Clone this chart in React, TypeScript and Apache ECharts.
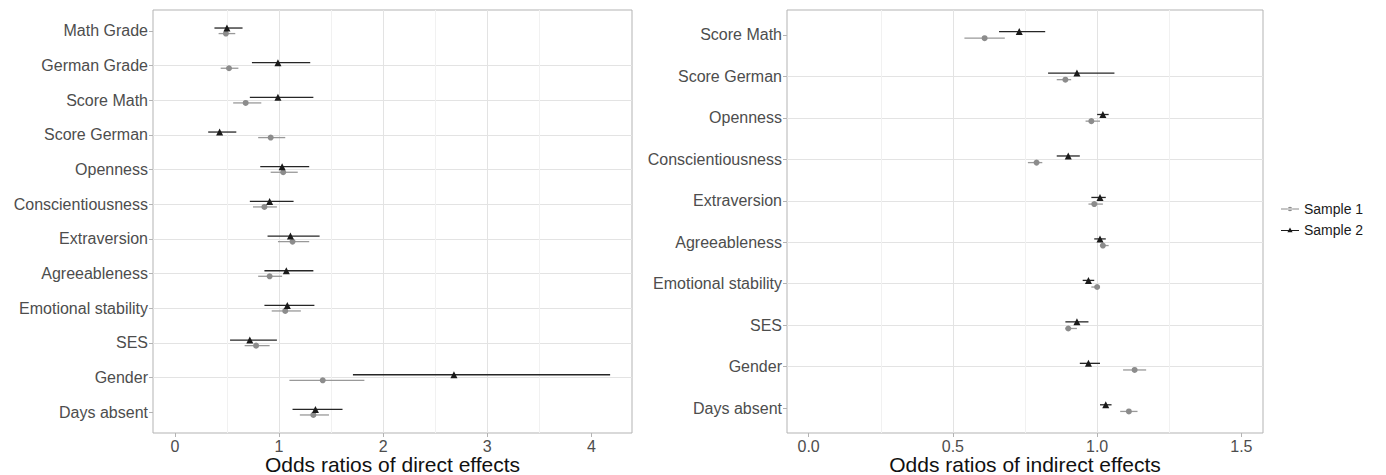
import React, { useEffect, useRef } from "react";
import * as echarts from "echarts";

const directCategories = [
  "Math Grade", "German Grade", "Score Math", "Score German", "Openness",
  "Conscientiousness", "Extraversion", "Agreeableness", "Emotional stability",
  "SES", "Gender", "Days absent",
];
const directS1Est = [0.49, 0.52, 0.68, 0.92, 1.04, 0.86, 1.13, 0.91, 1.06, 0.78, 1.42, 1.33];
const directS1Lo = [0.42, 0.44, 0.56, 0.80, 0.92, 0.75, 0.99, 0.80, 0.93, 0.67, 1.10, 1.20];
const directS1Hi = [0.58, 0.61, 0.83, 1.06, 1.18, 0.98, 1.29, 1.03, 1.21, 0.91, 1.82, 1.48];
const directS2Est = [0.50, 0.99, 0.99, 0.43, 1.03, 0.91, 1.11, 1.07, 1.08, 0.72, 2.68, 1.35];
const directS2Lo = [0.38, 0.74, 0.72, 0.32, 0.82, 0.72, 0.89, 0.86, 0.86, 0.53, 1.71, 1.13];
const directS2Hi = [0.65, 1.30, 1.33, 0.59, 1.29, 1.14, 1.39, 1.33, 1.34, 0.98, 4.18, 1.61];

const indirectCategories = [
  "Score Math", "Score German", "Openness", "Conscientiousness", "Extraversion",
  "Agreeableness", "Emotional stability", "SES", "Gender", "Days absent",
];
const indirectS1Est = [0.61, 0.89, 0.98, 0.79, 0.99, 1.02, 1.00, 0.90, 1.13, 1.11];
const indirectS1Lo = [0.54, 0.86, 0.96, 0.76, 0.97, 1.01, 0.98, 0.89, 1.09, 1.08];
const indirectS1Hi = [0.68, 0.91, 1.01, 0.81, 1.02, 1.04, 1.01, 0.93, 1.17, 1.14];
const indirectS2Est = [0.73, 0.93, 1.02, 0.90, 1.01, 1.01, 0.97, 0.93, 0.97, 1.03];
const indirectS2Lo = [0.66, 0.83, 1.00, 0.86, 0.98, 0.99, 0.95, 0.89, 0.94, 1.01];
const indirectS2Hi = [0.82, 1.06, 1.04, 0.94, 1.03, 1.03, 0.99, 0.97, 1.01, 1.05];

const directTicks = [0, 1, 2, 3, 4];
const indirectTicks = [0, 0.5, 1.0, 1.5];

const FONT = '"Liberation Sans", Arial, Helvetica, sans-serif';
const S1_COLOR = "#8c8c8c";
const S1_LINE = "#999999";
const S2_COLOR = "#1a1a1a";
const S2_LINE = "#262626";
const DODGE = 0.08;
const BORDER = "#b3b3b3";
const GRID_MAJOR = "#e3e3e3";
const GRID_MINOR = "#f1f1f1";

function ciSeries(name: string, idx: number, lo: number[], hi: number[], sign: number, color: string) {
  return {
    name,
    type: "custom",
    xAxisIndex: idx,
    yAxisIndex: idx,
    data: lo.map((l, i) => [l, hi[i], i]),
    encode: { x: [0, 1], y: 2 },
    renderItem: (params: any, api: any) => {
      const y = api.value(2) + sign * DODGE;
      const a = api.coord([api.value(0), y]);
      const b = api.coord([api.value(1), y]);
      return {
        type: "line",
        shape: { x1: a[0], y1: a[1], x2: b[0], y2: b[1] },
        style: { stroke: color, lineWidth: 1.3 },
      };
    },
    z: 3,
  };
}

function pointSeries(name: string, idx: number, est: number[], sign: number, symbol: string, size: number, color: string) {
  return {
    name,
    type: "scatter",
    xAxisIndex: idx,
    yAxisIndex: idx,
    symbol,
    symbolSize: size,
    itemStyle: { color, opacity: 1 },
    data: est.map((v, i) => [v, i + sign * DODGE]),
    z: 4,
  };
}

function yAxis(idx: number, cats: string[]) {
  const positions = cats.map((_, i) => i);
  return {
    type: "value",
    gridIndex: idx,
    min: -0.6,
    max: cats.length - 0.4,
    inverse: true,
    splitNumber: cats.length,
    axisLine: { show: false, onZero: false },
    axisTick: { show: true, length: 4, customValues: positions, lineStyle: { color: BORDER, width: 1 } },
    axisLabel: {
      customValues: positions,
      formatter: (v: number) => {
        const k = Math.round(v);
        return Math.abs(v - k) < 1e-6 && cats[k] !== undefined ? cats[k] : "";
      },
      fontSize: 16,
      fontFamily: FONT,
      color: "#4d4d4d",
      margin: 5,
    },
    splitLine: { show: true, showMinLine: false, showMaxLine: false, lineStyle: { color: GRID_MAJOR, width: 1 } },
  };
}

function xAxis(idx: number, min: number, max: number, splitNumber: number, ticks: number[], digits: number, name: string) {
  return {
    type: "value",
    gridIndex: idx,
    min,
    max,
    splitNumber,
    name,
    nameLocation: "middle",
    nameGap: 21,
    nameMoveOverlap: false,
    nameTextStyle: { fontSize: 21, fontFamily: FONT, color: "#111111", verticalAlign: "top", lineHeight: 21 },
    axisLine: { show: false, onZero: false },
    axisTick: { show: true, length: 4, customValues: ticks, lineStyle: { color: BORDER, width: 1 } },
    axisLabel: {
      customValues: ticks,
      formatter: (v: number) => v.toFixed(digits),
      fontSize: 16,
      fontFamily: FONT,
      color: "#4d4d4d",
      margin: 5,
    },
    splitLine: { show: true, showMinLine: false, showMaxLine: false, lineStyle: { color: GRID_MAJOR, width: 1 } },
    minorTick: { show: false, splitNumber: 2 },
    minorSplitLine: { show: true, lineStyle: { color: GRID_MINOR, width: 1 } },
  };
}

export default function App() {
  const ref = useRef<HTMLDivElement>(null);
  useEffect(() => {
    document.body.style.margin = "0";
    const chart = echarts.init(ref.current!, null, { renderer: "svg" });
    const option = {
      animation: false,
      backgroundColor: "#ffffff",
      textStyle: { fontFamily: FONT },
      grid: [
        { left: 153, top: 10, width: 479, height: 423, show: true, borderColor: BORDER, borderWidth: 1, backgroundColor: "transparent", containLabel: false, outerBoundsMode: "none" },
        { left: 787, top: 10, width: 476, height: 423, show: true, borderColor: BORDER, borderWidth: 1, backgroundColor: "transparent", containLabel: false, outerBoundsMode: "none" },
      ],
      xAxis: [
        xAxis(0, -0.21, 4.39, 5, directTicks, 0, "Odds ratios of direct effects"),
        xAxis(1, -0.075, 1.575, 4, indirectTicks, 1, "Odds ratios of indirect effects"),
      ],
      yAxis: [yAxis(0, directCategories), yAxis(1, indirectCategories)],
      legend: {
        orient: "vertical",
        left: 1281,
        top: 202,
        itemWidth: 18,
        itemHeight: 6,
        itemGap: 7,
        padding: 0,
        textStyle: { fontSize: 14, fontFamily: FONT, color: "#1a1a1a" },
        data: [
          {
            name: "Sample 1",
            icon: "path://M0 2.5H18V3.5H0Z M6.8 3A2.2 2.2 0 1 0 11.2 3A2.2 2.2 0 1 0 6.8 3Z M0 0.01H0.01V0Z M0 6H0.01V5.99Z",
            itemStyle: { color: S1_COLOR },
          },
          {
            name: "Sample 2",
            icon: "path://M0 3H18V4H0Z M9 0.6L11.6 5.2H6.4Z M0 0H0.01V0.01Z M0 6H0.01V5.99Z",
            itemStyle: { color: S2_COLOR },
          },
        ],
      },
      series: [
        ciSeries("ci-d1", 0, directS1Lo, directS1Hi, 1, S1_LINE),
        ciSeries("ci-d2", 0, directS2Lo, directS2Hi, -1, S2_LINE),
        pointSeries("Sample 1", 0, directS1Est, 1, "circle", 6, S1_COLOR),
        pointSeries("Sample 2", 0, directS2Est, -1, "triangle", 7, S2_COLOR),
        ciSeries("ci-i1", 1, indirectS1Lo, indirectS1Hi, 1, S1_LINE),
        ciSeries("ci-i2", 1, indirectS2Lo, indirectS2Hi, -1, S2_LINE),
        pointSeries("Sample 1", 1, indirectS1Est, 1, "circle", 6, S1_COLOR),
        pointSeries("Sample 2", 1, indirectS2Est, -1, "triangle", 7, S2_COLOR),
      ],
    };
    chart.setOption(option as any);
    return () => chart.dispose();
  }, []);
  return <div ref={ref} style={{ position: "absolute", left: 0, top: 0, width: 1386, height: 475 }} />;
}
